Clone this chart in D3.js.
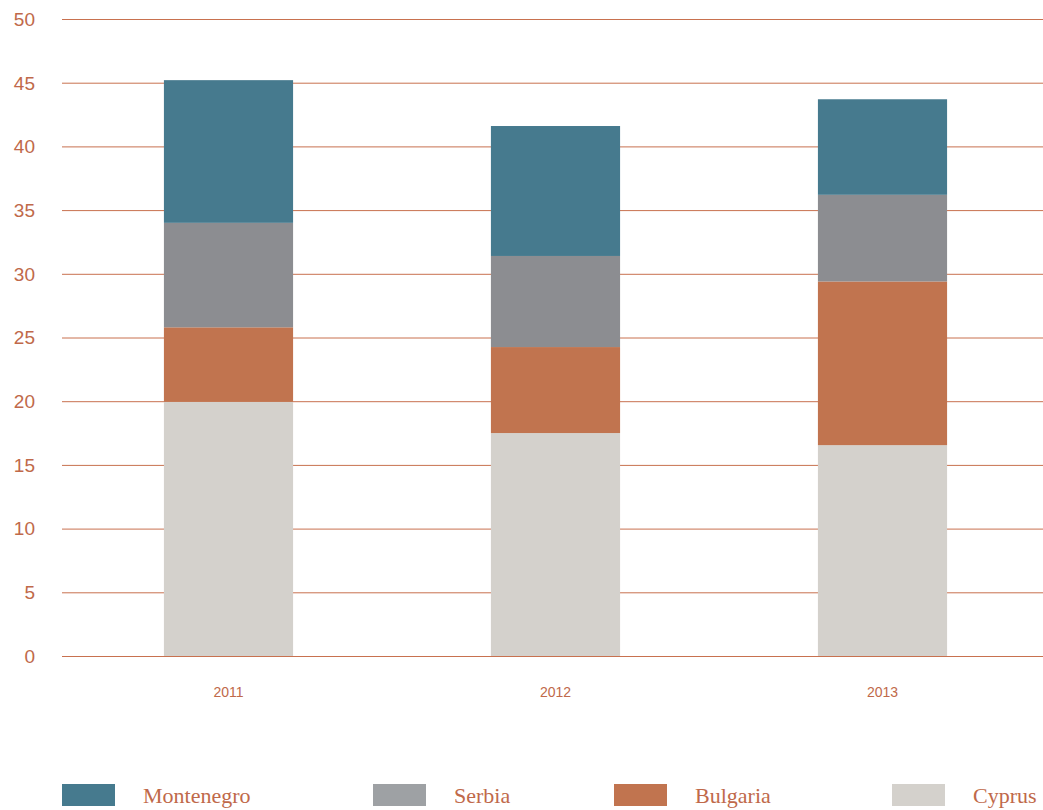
<!DOCTYPE html>
<html lang="en">
<head>
    <meta charset="UTF-8">
    <script src="https://d3js.org/d3.v7.min.js"></script>
    <style>
        body { margin: 0; background: #fff; }
        svg { display: block; }
    </style>
    <title>Chart</title>
</head>
<body>
    <svg id="chart" width="1043" height="810"></svg>
    <script>
        // data
        const years = ["2011", "2012", "2013"];
        const countries = ["Cyprus", "Bulgaria", "Serbia", "Montenegro"];
        const cyprus = [19.95, 17.5, 16.55];
        const bulgaria = [5.85, 6.75, 12.85];
        const serbia = [8.2, 7.15, 6.8];
        const montenegro = [11.2, 10.2, 7.5];
        const yTicks = [0, 5, 10, 15, 20, 25, 30, 35, 40, 45, 50];

        const barColors = { Montenegro: "#467a8e", Serbia: "#8c8d91", Bulgaria: "#c1744f", Cyprus: "#d4d1cc" };
        const legendColors = { Montenegro: "#467a8e", Serbia: "#9ea1a4", Bulgaria: "#c1744f", Cyprus: "#d4d1cc" };
        const accent = "#c0694a";

        const rows = years.map((y, i) => ({
            year: y, Cyprus: cyprus[i], Bulgaria: bulgaria[i], Serbia: serbia[i], Montenegro: montenegro[i]
        }));

        const svg = d3.select("#chart");

        const y = d3.scaleLinear().domain([0, 50]).range([656, 19]);
        const x = d3.scaleBand().domain(years).range([65, 1046])
            .paddingInner(0.605).paddingOuter(0.3025);

        // gridlines
        svg.append("g").selectAll("line")
            .data(yTicks)
            .enter().append("line")
            .attr("x1", 62).attr("x2", 1043)
            .attr("y1", d => y(d) + 0.5).attr("y2", d => y(d) + 0.5)
            .attr("stroke", "#c8714f").attr("stroke-width", 1);

        // y labels
        svg.append("g").selectAll("text")
            .data(yTicks)
            .enter().append("text")
            .attr("x", 35).attr("y", d => y(d))
            .attr("dy", "0.36em")
            .attr("text-anchor", "end")
            .attr("font-family", "Liberation Sans, Arial, sans-serif")
            .attr("font-size", 19)
            .attr("fill", accent)
            .text(d => d);

        // stacked bars
        const series = d3.stack().keys(countries)(rows);
        svg.append("g").selectAll("g")
            .data(series)
            .enter().append("g")
            .attr("fill", d => barColors[d.key])
            .selectAll("rect")
            .data(d => d)
            .enter().append("rect")
            .attr("x", d => x(d.data.year))
            .attr("width", x.bandwidth())
            .attr("y", d => y(d[1]))
            .attr("height", d => y(d[0]) - y(d[1]));

        // x labels
        svg.append("g").selectAll("text")
            .data(years)
            .enter().append("text")
            .attr("x", d => x(d) + x.bandwidth() / 2)
            .attr("y", 697)
            .attr("text-anchor", "middle")
            .attr("font-family", "Liberation Sans, Arial, sans-serif")
            .attr("font-size", 14)
            .attr("fill", accent)
            .text(d => d);

        // legend
        const legendItems = ["Montenegro", "Serbia", "Bulgaria", "Cyprus"];
        const legendX = [62, 373, 614, 892];
        const legend = svg.append("g").selectAll("g")
            .data(legendItems)
            .enter().append("g")
            .attr("transform", (d, i) => "translate(" + legendX[i] + ",784)");
        legend.append("rect")
            .attr("width", 53).attr("height", 22)
            .attr("fill", d => legendColors[d]);
        legend.append("text")
            .attr("x", 81).attr("y", 19)
            .attr("font-family", "Liberation Serif, Times New Roman, serif")
            .attr("font-size", 22)
            .attr("fill", accent)
            .text(d => d);
    </script>
</body>
</html>
